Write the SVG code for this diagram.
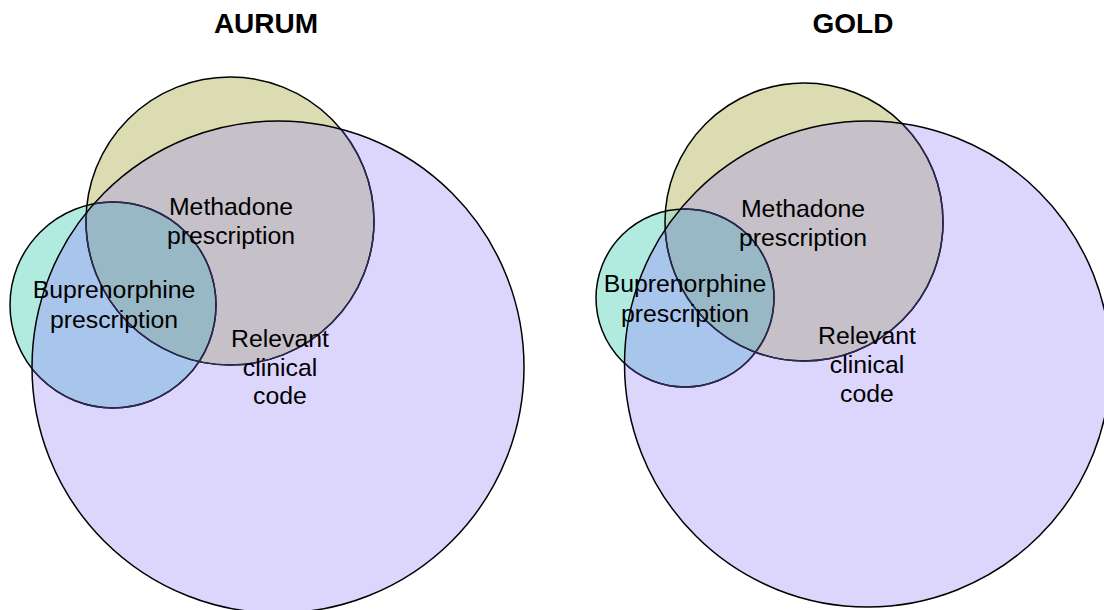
<svg xmlns="http://www.w3.org/2000/svg" width="1104" height="610" viewBox="0 0 1104 610">
<style>
.title{font-family:"Liberation Sans",Arial,sans-serif;font-size:28px;font-weight:bold;fill:#000;text-anchor:middle}
.lbl{font-family:"Liberation Sans",Arial,sans-serif;font-size:24.8px;fill:#000;text-anchor:middle}
.edge{fill:none;stroke:#000;stroke-width:1.5}
.inner{fill:none;stroke:#2c2a55;stroke-width:1.5}
</style>
<defs>
<clipPath id="aP"><circle cx="278" cy="367" r="246"/></clipPath>
<clipPath id="aY"><circle cx="230" cy="221" r="144"/></clipPath>
<clipPath id="aT"><circle cx="113" cy="305" r="103"/></clipPath>
<clipPath id="gP"><circle cx="867.5" cy="364" r="243"/></clipPath>
<clipPath id="gY"><circle cx="804" cy="222" r="139"/></clipPath>
<clipPath id="gT"><circle cx="685" cy="298" r="89"/></clipPath>
</defs>
<rect width="1104" height="610" fill="#fff"/>
<text class="title" x="266" y="33">AURUM</text>
<text class="title" x="853" y="33">GOLD</text>

<g id="aurum">
<g id="aurum-regions">
<circle cx="278" cy="367" r="246" fill="#dcd5fc"/>
<circle cx="230" cy="221" r="144" fill="#dbdcb1"/>
<circle cx="113" cy="305" r="103" fill="#b1ebe0"/>
<circle cx="230" cy="221" r="144" fill="#c6c1c8" clip-path="url(#aP)"/>
<circle cx="113" cy="305" r="103" fill="#b3dcc0" clip-path="url(#aY)"/>
<g clip-path="url(#aP)"><circle cx="113" cy="305" r="103" fill="#a8c6eb"/></g>
<g clip-path="url(#aP)"><g clip-path="url(#aY)"><circle cx="113" cy="305" r="103" fill="#99b8c5"/></g></g>
</g>
<g id="aurum-outlines">
<circle class="edge" cx="230" cy="221" r="144"/>
<circle class="edge" cx="113" cy="305" r="103"/>
<g clip-path="url(#aP)">
<circle class="inner" cx="230" cy="221" r="144"/>
<circle class="inner" cx="113" cy="305" r="103"/>
</g>
<circle class="edge" cx="278" cy="367" r="246"/>
</g>
<g id="aurum-methadone"><text class="lbl" x="231" y="215">Methadone</text><text class="lbl" x="231" y="244">prescription</text></g>
<g id="aurum-buprenorphine"><text class="lbl" x="114" y="298">Buprenorphine</text><text class="lbl" x="114" y="328">prescription</text></g>
<g id="aurum-clinical"><text class="lbl" x="280" y="347">Relevant</text><text class="lbl" x="280" y="376">clinical</text><text class="lbl" x="280" y="404">code</text></g>
</g>

<g id="gold">
<g id="gold-regions">
<circle cx="867.5" cy="364" r="243" fill="#dcd5fc"/>
<circle cx="804" cy="222" r="139" fill="#dbdcb1"/>
<circle cx="685" cy="298" r="89" fill="#b1ebe0"/>
<circle cx="804" cy="222" r="139" fill="#c6c1c8" clip-path="url(#gP)"/>
<circle cx="685" cy="298" r="89" fill="#b3dcc0" clip-path="url(#gY)"/>
<g clip-path="url(#gP)"><circle cx="685" cy="298" r="89" fill="#a8c6eb"/></g>
<g clip-path="url(#gP)"><g clip-path="url(#gY)"><circle cx="685" cy="298" r="89" fill="#99b8c5"/></g></g>
</g>
<g id="gold-outlines">
<circle class="edge" cx="804" cy="222" r="139"/>
<circle class="edge" cx="685" cy="298" r="89"/>
<g clip-path="url(#gP)">
<circle class="inner" cx="804" cy="222" r="139"/>
<circle class="inner" cx="685" cy="298" r="89"/>
</g>
<circle class="edge" cx="867.5" cy="364" r="243"/>
</g>
<g id="gold-methadone"><text class="lbl" x="803" y="217">Methadone</text><text class="lbl" x="803" y="246">prescription</text></g>
<g id="gold-buprenorphine"><text class="lbl" x="685" y="292">Buprenorphine</text><text class="lbl" x="685" y="322">prescription</text></g>
<g id="gold-clinical"><text class="lbl" x="867" y="344">Relevant</text><text class="lbl" x="867" y="373">clinical</text><text class="lbl" x="867" y="402">code</text></g>
</g>
<g id="connectors"/>
</svg>
